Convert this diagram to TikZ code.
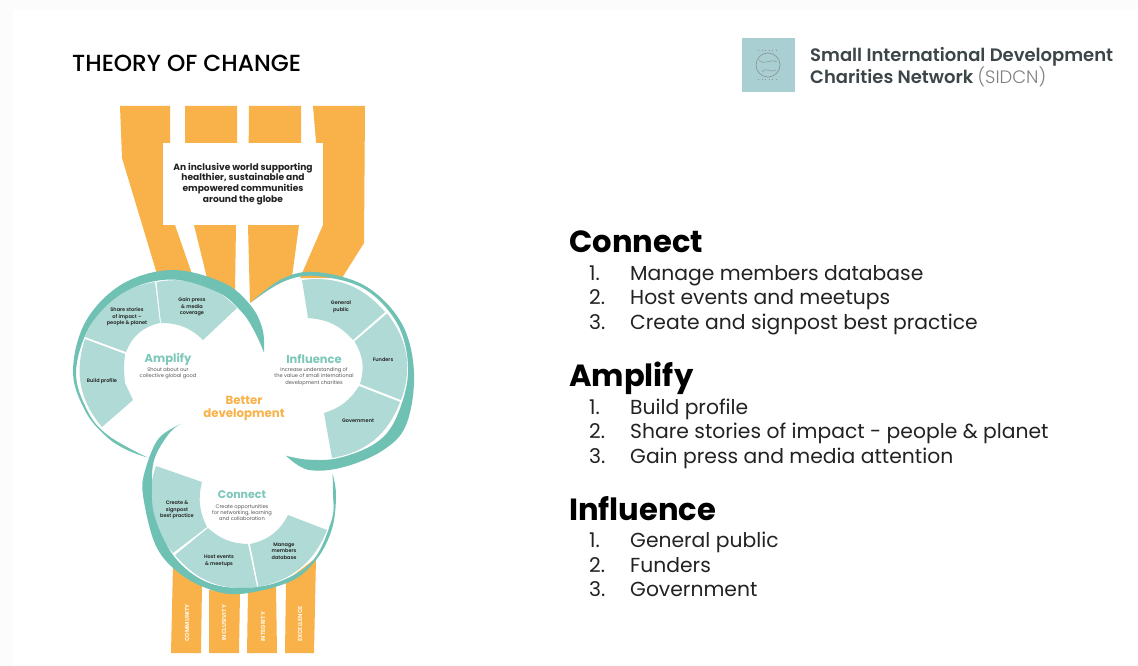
\documentclass[tikz,border=0pt]{standalone}
\usepackage{fontspec}
\setmainfont{Poppins}
\newfontfamily\pmed{Poppins Medium}
\newfontfamily\psemi{Poppins SemiBold}
\newfontfamily\plight{Poppins Light}
\definecolor{orangeb}{HTML}{F9B24A}
\definecolor{ringt}{HTML}{6FC1B3}
\definecolor{sect}{HTML}{B0DAD5}
\definecolor{headt}{HTML}{7CC7BA}
\definecolor{logob}{HTML}{A9CFD3}
\definecolor{logot}{HTML}{3C4649}
\definecolor{ink}{HTML}{222222}
\definecolor{subt}{HTML}{555555}
\tikzset{
  band/.style={fill=orangeb},
  ring/.style={fill=ringt},
  sector/.style={fill=sect},
  seclabel/.style={font=\psemi\fontsize{5}{6.4}\selectfont,text=ink,align=center,inner sep=0pt},
  hub/.style={font=\bfseries\fontsize{11.5}{13}\selectfont,text=headt,inner sep=0pt},
  hubsub/.style={font=\fontsize{5.1}{6.4}\selectfont,text=subt,align=center,inner sep=0pt},
  value/.style={font=\bfseries\fontsize{5.8}{6}\selectfont,text=white!85!orangeb,rotate=90,inner sep=0pt},
  listhead/.style={font=\bfseries\fontsize{30.6}{32}\selectfont,text=black,anchor=base west,inner sep=0pt},
  listitem/.style={font=\fontsize{20.3}{22}\selectfont,text=ink,anchor=base west,inner sep=0pt},
  orgtext/.style={font=\psemi\fontsize{18}{20}\selectfont,text=logot,anchor=base west,inner sep=0pt},
}
\begin{document}
\begin{tikzpicture}[x=1pt,y=-1pt]
\useasboundingbox (0,0) rectangle (1138,666);
\fill[black!1] (0,0) rectangle (1138,666);
\fill[white] (13,10) rectangle (1138,666);
% top bands
\fill[band] (120,106)--(170,106)--(170,143)--(175,225)--(192,274)--(157,274)--(122,158)--cycle;
\fill[band] (185,106)--(237,106)--(237,143)--(236,225)--(235,292)--(207,278)--(194,225)--(185,143)--cycle;
\fill[band] (249,106)--(301,106)--(301,143)--(299,225)--(292,277)--(267,290)--(250,303)--(248,225)--cycle;
\fill[band] (313,106)--(365,106)--(364,243)--(342,278)--(300,278)--(323,225)--cycle;
\node[fill=white,minimum width=160pt,minimum height=82pt,inner sep=0pt,align=center,font=\bfseries\fontsize{9.1}{10.9}\selectfont,text=ink] (goal) at (243,184)
  {An inclusive world supporting\\healthier, sustainable and\\empowered communities\\around the globe};
% bottom bands
\fill[band] (173,565)--(202,585)--(201,653)--(171,653)--cycle;
\fill[band] (209,590)--(240,593)--(239,653)--(209,653)--cycle;
\fill[band] (248,592)--(276,586)--(277,653)--(247,653)--cycle;
\fill[band] (286,581)--(316,558)--(314,653)--(285,653)--cycle;
\node[value] (v1) at (187,623) {COMMUNITY};
\node[value] (v2) at (224,623) {INCLUSIVITY};
\node[value] (v3) at (263,627) {INTEGRITY};
\node[value] (v4) at (300,624) {EXCELLENCE};
% sectors amplify
\fill[sector] (102,427) to[bend left=29] (85,339) -- (125,354) to[bend right=6] (125,383) -- (133,400) -- cycle;
\fill[sector] (85,337) to[bend left=29] (155,282) -- (160,323) to[bend right=28] (126,352) -- cycle;
\fill[sector] (156.5,282) to[bend left=28] (237,308) -- (203,340) to[bend right=22] (161,323) -- cycle;
% sectors influence
\fill[sector] (302,280) to[bend left=28] (385,312) -- (353,340) to[bend right=22] (308,318) -- cycle;
\fill[sector] (387,313.5) to[bend left=29] (401,400) -- (360,384) to[bend right=24] (354.5,341.5) -- cycle;
\fill[sector] (400,402) to[bend left=30] (332,458) -- (324,413) to[bend right=20] (359,386) -- cycle;
% sectors connect
\fill[sector] (173,553) to[bend left=30] (156,466) -- (202,482) to[bend right=20] (207,527) -- cycle;
\fill[sector] (175,555) to[bend right=29] (257,587) -- (248,544) to[bend left=20] (208,528) -- cycle;
\fill[sector] (258.5,587) to[bend right=28] (327,530) -- (288,515) to[bend left=25] (250,544) -- cycle;
% rings (polar outlines around each circle's centre; y is down, so angles are negated)
\begin{scope}[shift={(172,372)}]
\fill[ring] plot[smooth,tension=0.6] coordinates {(-254:89)(-240:90)(-225:92)(-205:95)(-180:99)(-150:100)(-120:101)(-90:102)(-60:103)(-40:103)(-25:100)(-12:94)}
  -- plot[smooth,tension=0.6] coordinates {(-12:94)(-25:92)(-40:92)(-60:92)(-90:92.5)(-120:93)(-150:94)(-180:96)(-205:93)(-225:90)(-254:89)} -- cycle;
\end{scope}
\begin{scope}[shift={(316,373)}]
\fill[ring] plot[smooth,tension=0.6] coordinates {(-250:88)(-265:97)(-285:98)(-310:102)(-330:104)(-360:98)(-390:99)(-420:100)(-450:101)(-470:100)(-493:96)}
  -- plot[smooth,tension=0.6] coordinates {(-493:96)(-470:97)(-450:97)(-420:97)(-390:95)(-360:92)(-330:92)(-310:92)(-285:88)(-265:87)(-250:88)} -- cycle;
\end{scope}
\begin{scope}[shift={(240,495)}]
\fill[ring] plot[smooth,tension=0.6] coordinates {(-129:92)(-145:99)(-165:98)(-180:97)(-210:98)(-230:99)(-250:99)(-270:99)(-300:100)(-320:100)(-340:98)(-360:96)(-373:95)}
  -- plot[smooth,tension=0.6] coordinates {(-373:95)(-361:93)(-345:95)(-318:98)(-293:95)(-268:93)(-246:93)(-222:90)(-194:88)(-172:89)(-156:93)(-138:94)(-129:92)} -- cycle;
\end{scope}
% sector labels
\node[seclabel] (s1) at (192,307) {Gain press\\\& media\\coverage};
\node[seclabel] (s2) at (127,317) {Share stories\\of impact –\\people \& planet};
\node[seclabel] (s3) at (102,381) {Build profile};
\node[seclabel] (s4) at (341,307) {General\\public};
\node[seclabel] (s5) at (383,360) {Funders};
\node[seclabel] (s6) at (358,421) {Government};
\node[seclabel] (s7) at (177,510) {Create \&\\signpost\\best practice};
\node[seclabel] (s8) at (219,561) {Host events\\\& meetups};
\node[seclabel] (s9) at (284,551) {Manage\\members\\database};
% hubs
\node[hub] (h1) at (168,359) {Amplify};
\node[hubsub] (h1s) at (168,373.5) {Shout about our\\collective global good};
\node[hub] (h2) at (314,359) {Influence};
\node[hubsub] (h2s) at (314,376.5) {Increase understanding of\\the value of small international\\development charities};
\node[hub,font=\bfseries\fontsize{11}{13}\selectfont] (h3) at (242,495) {Connect};
\node[hubsub] (h3s) at (242,512.5) {Create opportunities\\for networking, learning\\and collaboration};
\node[font=\bfseries\fontsize{11.8}{13.5}\selectfont,text=orangeb,align=center,inner sep=0pt] (better) at (244,408.5) {Better\\development};
% title
\node[font=\pmed\fontsize{23.3}{24}\selectfont,text=black,anchor=base west,inner sep=0pt] (title) at (72,72) {THEORY OF CHANGE};
% logo
\node[fill=logob,minimum width=53pt,minimum height=54pt,inner sep=0pt] (logo) at (768.5,65) {};
\draw[gray!70!logob,line width=0.7pt] (768,65) circle (12);
\draw[gray!70!logob,line width=0.5pt] (759,60) .. controls (765,66) and (770,58) .. (777,62) (762,72) .. controls (767,66) and (772,74) .. (776,70);
\draw[gray!70!logob,line width=1pt,dash pattern=on 1pt off 2.5pt] (758,50.5)--(778,50.5) (758,79.5)--(778,79.5);
\node[orgtext] (org1) at (810,62) {Small International Development};
\node[orgtext] (org2) at (810,84) {Charities Network \textcolor{gray}{\plight(SIDCN)}};
% lists
\node[listhead] (c) at (569,252) {Connect};
\node[listitem] (c1n) at (589,280) {1.}; \node[listitem] (c1) at (630,280) {Manage members database};
\node[listitem] (c2n) at (589,304) {2.}; \node[listitem] (c2) at (630,304) {Host events and meetups};
\node[listitem] (c3n) at (589,329) {3.}; \node[listitem] (c3) at (630,329) {Create and signpost best practice};
\node[listhead] (a) at (569,386) {Amplify};
\node[listitem] (a1n) at (589,414) {1.}; \node[listitem] (a1) at (630,414) {Build profile};
\node[listitem] (a2n) at (589,438) {2.}; \node[listitem] (a2) at (630,438) {Share stories of impact - people \& planet};
\node[listitem] (a3n) at (589,463) {3.}; \node[listitem] (a3) at (630,463) {Gain press and media attention};
\node[listhead] (i) at (569,520) {Influence};
\node[listitem] (i1n) at (589,547) {1.}; \node[listitem] (i1) at (630,547) {General public};
\node[listitem] (i2n) at (589,572) {2.}; \node[listitem] (i2) at (630,572) {Funders};
\node[listitem] (i3n) at (589,596) {3.}; \node[listitem] (i3) at (630,596) {Government};
\end{tikzpicture}
\end{document}
